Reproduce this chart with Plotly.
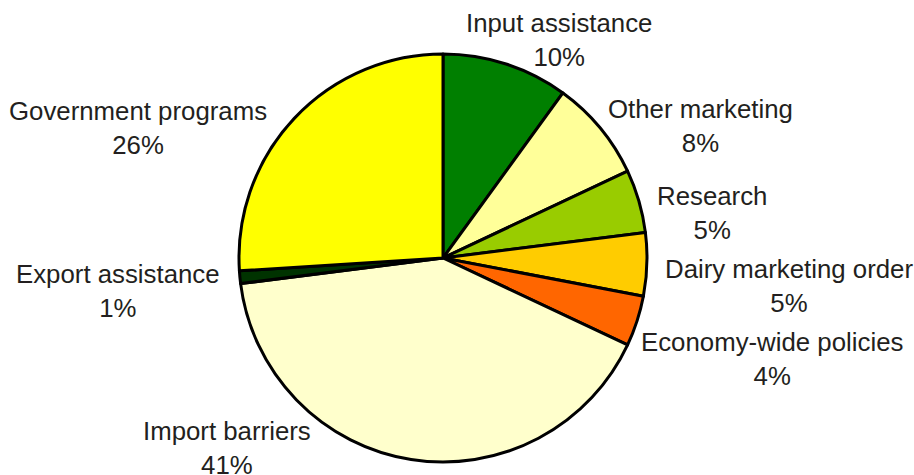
import plotly.graph_objects as go

# Share of total support, by policy category (clockwise from 12 o'clock)
categories = [
    "Input assistance",
    "Other marketing",
    "Research",
    "Dairy marketing order",
    "Economy-wide policies",
    "Import barriers",
    "Export assistance",
    "Government programs",
]
shares = [10, 8, 5, 5, 4, 41, 1, 26]

slice_colors = [
    "#007F00",
    "#FFFF99",
    "#99CC00",
    "#FFCC00",
    "#FF6600",
    "#FFFFCC",
    "#003300",
    "#FFFF00",
]

# Label anchor points in pixels (x, y from top) for the 914x475 canvas
label_px = [
    (559, 40),
    (700, 126),
    (712, 213),
    (789, 286),
    (772, 359),
    (227, 448),
    (118, 291),
    (138, 128),
]

W, H = 914, 475
cx, cy, r = 443, 258, 204

fig = go.Figure(
    go.Pie(
        labels=categories,
        values=shares,
        sort=False,
        direction="clockwise",
        rotation=0,
        textinfo="none",
        hoverinfo="skip",
        showlegend=False,
        marker=dict(colors=slice_colors, line=dict(color="black", width=3)),
        domain=dict(
            x=[(cx - r) / W, (cx + r) / W],
            y=[1 - (cy + r) / H, 1 - (cy - r) / H],
        ),
    )
)

text_font = dict(family="Liberation Sans, Arial, sans-serif", size=25.8, color="#231F20")
for name, val, (px, py) in zip(categories, shares, label_px):
    fig.add_annotation(
        x=px / W,
        y=1 - py / H,
        xref="paper",
        yref="paper",
        xanchor="center",
        yanchor="middle",
        text=f"{name}<br>{val}%",
        showarrow=False,
        align="center",
        font=text_font,
    )

fig.update_layout(
    width=W,
    height=H,
    margin=dict(l=0, r=0, t=0, b=0),
    paper_bgcolor="white",
    plot_bgcolor="white",
)

fig.write_html("out.html")
